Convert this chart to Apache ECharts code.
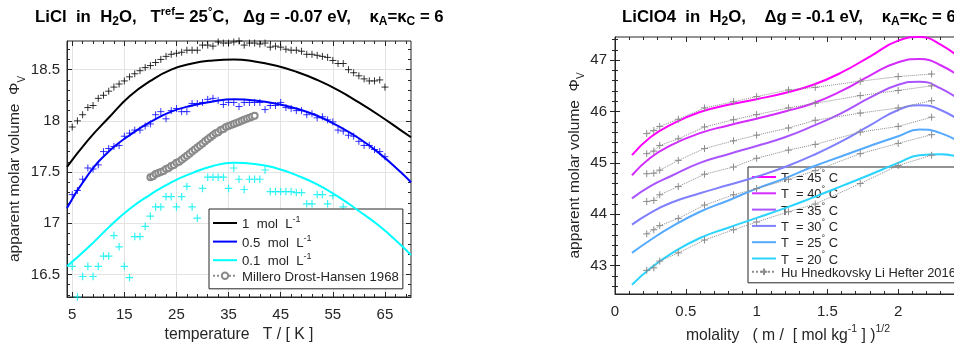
<!DOCTYPE html>
<html><head><meta charset="utf-8">
<script src="https://cdn.jsdelivr.net/npm/echarts@6/dist/echarts.min.js"></script>
<style>html,body{margin:0;padding:0;background:#fff}#c{width:954px;height:345px}</style>
</head><body><div id="c"></div><script>
// ---------- Left panel: LiCl ----------
const tempsData = [5,6,7,8,9,10,11,12,13,14,15,16,17,18,19,20,21,22,23,24,25,26,27,28,29,30,31,32,33,34,35,36,37,38,39,40,41,42,43,44,45,46,47,48,49,50,51,52,53,54,55,56,57,58,59,60,61,62,63,64,65];
const licl1Meas = [17.94,18.00,18.06,18.13,18.15,18.22,18.25,18.29,18.33,18.36,18.39,18.43,18.46,18.49,18.52,18.54,18.57,18.60,18.63,18.65,18.66,18.67,18.69,18.69,18.69,18.74,18.74,18.73,18.77,18.76,18.76,18.77,18.78,18.74,18.76,18.76,18.75,18.76,18.72,18.73,18.72,18.70,18.69,18.69,18.68,18.65,18.65,18.64,18.63,18.62,18.59,18.56,18.56,18.50,18.47,18.44,18.41,18.39,18.39,18.40,18.33];
const licl05Meas = [17.28,17.32,17.43,17.54,17.53,17.57,17.70,17.73,17.75,17.76,17.85,17.88,17.91,17.91,17.95,17.97,18.06,18.09,18.02,18.10,18.12,18.09,18.09,18.17,18.17,18.18,18.21,18.22,18.20,18.16,18.18,18.18,18.14,18.18,18.18,18.18,18.18,18.11,18.15,18.15,18.18,18.13,18.12,18.10,18.10,18.06,18.07,18.03,18.04,18.01,17.99,17.91,17.90,17.86,17.85,17.80,17.76,17.76,17.72,17.70,17.65];
const temps01 = [5,6,7,8,9,10,11,12,13,14,15,16,17,18,19,20,21,22,23,24,25,26,27,28,29,30,31,32,33,34,35,36,37,38,39,40,41,42,43,44,45,46,47,48,49,50,51,52,53,54,55,57];
const licl01Meas = [16.58,16.28,16.48,16.58,16.48,16.58,16.68,16.68,16.88,16.77,16.58,16.47,16.87,16.87,16.97,17.07,17.16,17.16,17.26,17.26,17.16,17.26,17.36,17.16,17.05,17.34,17.45,17.45,17.45,17.45,17.34,17.54,17.43,17.33,17.43,17.43,17.43,17.52,17.31,17.31,17.31,17.31,17.31,17.30,17.30,17.19,17.19,17.28,17.28,17.19,17.27,17.16];
const modelT = [4,8,12,16,20,24,28,32,36,40,44,48,52,56,60,64,68,70];
const licl1Model = [17.55,17.81,18.03,18.24,18.39,18.50,18.56,18.59,18.60,18.58,18.54,18.48,18.40,18.30,18.18,18.05,17.91,17.84];
const licl05Model = [17.15,17.47,17.70,17.86,17.99,18.09,18.15,18.19,18.21,18.20,18.17,18.12,18.05,17.95,17.83,17.68,17.50,17.40];
const licl01Model = [16.58,16.76,16.96,17.14,17.28,17.40,17.49,17.56,17.59,17.58,17.54,17.47,17.38,17.26,17.12,16.97,16.79,16.69];
const milleroT = [20,20.5,21,21.5,22,22.5,23,23.5,24,24.5,25,25.5,26,26.5,27,27.5,28,28.5,29,29.5,30,30.5,31,31.5,32,32.5,33,33.5,34,34.5,35,35.5,36,36.5,37,37.5,38,38.5,39,39.5,40];
const milleroV = [17.45,17.46,17.48,17.49,17.50,17.51,17.53,17.54,17.56,17.57,17.59,17.60,17.62,17.64,17.66,17.68,17.70,17.72,17.74,17.76,17.78,17.80,17.82,17.84,17.86,17.88,17.89,17.91,17.92,17.94,17.95,17.96,17.97,17.98,17.99,18.00,18.01,18.02,18.03,18.04,18.05];
const leftXTicks = [5,15,25,35,45,55,65];
const leftXMinor = [7,9,11,13,17,19,21,23,27,29,31,33,37,39,41,43,47,49,51,53,57,59,61,63,67,69];
const leftYTicks = [16.5,17,17.5,18,18.5];
const leftYMinor = [16.3,16.4,16.6,16.7,16.8,16.9,17.1,17.2,17.3,17.4,17.6,17.7,17.8,17.9,18.1,18.2,18.3,18.4,18.6,18.7];

// ---------- Right panel: LiClO4 ----------
const rightTemps = ['45','40','35','30','25','20'];
const modelX = [0.12,0.25,0.4,0.6,0.8,1.0,1.2,1.4,1.6,1.8,2.0,2.15,2.3,2.5];
const model45 = [45.15,45.50,45.75,45.99,46.13,46.24,46.36,46.52,46.76,47.07,47.38,47.45,47.30,46.90];
const model40 = [44.76,45.10,45.35,45.58,45.73,45.86,46.00,46.16,46.40,46.70,46.96,47.02,46.90,46.55];
const model35 = [44.31,44.55,44.75,45.00,45.17,45.33,45.50,45.72,45.97,46.27,46.52,46.58,46.45,46.10];
const model30 = [43.80,44.03,44.23,44.41,44.57,44.73,44.92,45.15,45.42,45.73,46.03,46.12,46.03,45.70];
const model25 = [43.25,43.50,43.76,44.05,44.27,44.50,44.70,44.93,45.13,45.33,45.52,45.65,45.58,45.30];
const model20 = [42.63,42.95,43.24,43.54,43.74,43.93,44.12,44.33,44.55,44.77,45.00,45.15,45.17,45.05];
const measX = [0.224,0.274,0.316,0.447,0.632,0.837,1.0,1.225,1.414,1.732,2.0,2.236];
const meas45 = [45.57,45.63,45.71,45.85,46.07,46.19,46.29,46.42,46.47,46.59,46.68,46.73];
const meas40 = [45.18,45.23,45.34,45.47,45.70,45.84,45.94,46.07,46.16,46.31,46.41,46.50];
const meas35 = [44.79,44.80,44.86,45.05,45.28,45.43,45.54,45.68,45.83,45.97,46.07,46.21];
const meas30 = [44.25,44.27,44.38,44.54,44.78,44.92,45.09,45.25,45.36,45.60,45.71,45.89];
const meas25 = [43.62,43.70,43.78,43.92,44.18,44.38,44.50,44.68,44.85,45.18,45.38,45.55];
const meas20 = [42.91,42.96,43.09,43.25,43.50,43.70,43.85,44.05,44.20,44.60,44.95,45.15];
const rightXTicks = [0,0.5,1,1.5,2,2.5];
const rightXMinor = [0.1,0.2,0.3,0.4,0.6,0.7,0.8,0.9,1.1,1.2,1.3,1.4,1.6,1.7,1.8,1.9,2.1,2.2,2.3,2.4];
const rightYTicks = [43,44,45,46,47];
const rightYMinor = [42.6,42.8,43.2,43.4,43.6,43.8,44.2,44.4,44.6,44.8,45.2,45.4,45.6,45.8,46.2,46.4,46.6,46.8,47.2,47.4];

const rightColors = ['#ff00ff','#d42bff','#aa55ff','#8080ff','#55aaff','#2bd4ff'];
const rightModels = [model45,model40,model35,model30,model25,model20];
const rightMeas = [meas45,meas40,meas35,meas30,meas25,meas20];

const FONT = 'Liberation Sans, Arial, Helvetica, sans-serif';
const TXT = '#262626';
const PLUS = 'path://M0,5L10,5M5,0L5,10';
const zip = (xs, ys) => xs.map((x, i) => [x, ys[i]]);

const chart = echarts.init(document.getElementById('c'), null, {renderer: 'canvas'});

function tickAxis(gridIndex, pos, min, max, ticks, len) {
  return {
    type: 'value', gridIndex, position: pos, min, max,
    axisLine: {show: false}, axisLabel: {show: false}, splitLine: {show: false},
    axisTick: {show: true, inside: true, length: len, customValues: ticks, lineStyle: {color: TXT}}
  };
}

const series = [];
series.push({type: 'scatter', name: 'm1', xAxisIndex: 0, yAxisIndex: 0, data: zip(tempsData, licl1Meas), symbol: PLUS, symbolSize: 7, itemStyle: {color: '#000', borderColor: '#000', borderWidth: 1}, z: 3});
series.push({type: 'scatter', name: 'm05', xAxisIndex: 0, yAxisIndex: 0, data: zip(tempsData, licl05Meas), symbol: PLUS, symbolSize: 7, itemStyle: {color: '#0000ff', borderColor: '#0000ff', borderWidth: 1}, z: 3});
series.push({type: 'scatter', name: 'm01', xAxisIndex: 0, yAxisIndex: 0, data: zip(temps01, licl01Meas), symbol: PLUS, symbolSize: 7.5, itemStyle: {color: '#00ffff', borderColor: '#00f0f0', borderWidth: 1.2}, z: 3});
[['1 mol L-1', licl1Model, '#000000'], ['0.5 mol L-1', licl05Model, '#0000ff'], ['0.1 mol L-1', licl01Model, '#00ffff']].forEach(([n, d, c]) => {
  series.push({type: 'line', name: n, xAxisIndex: 0, yAxisIndex: 0, data: zip(modelT, d), smooth: true, showSymbol: false, symbol: 'none', lineStyle: {color: c, width: 2}, itemStyle: {color: c}, z: 4});
});
series.push({type: 'line', name: 'Millero Drost-Hansen 1968', xAxisIndex: 0, yAxisIndex: 0, data: zip(milleroT, milleroV), symbol: 'emptyCircle', symbolSize: 6, lineStyle: {color: '#8a8a8a', width: 1.2, type: 'dotted'}, itemStyle: {color: '#8a8a8a', borderColor: '#8a8a8a', borderWidth: 1.5}, z: 5});

rightTemps.forEach((t, i) => {
  series.push({type: 'line', name: 'T = ' + t + '° C', xAxisIndex: 8, yAxisIndex: 8, data: zip(modelX, rightModels[i]), smooth: true, showSymbol: false, symbol: 'none', lineStyle: {color: rightColors[i], width: 2}, itemStyle: {color: rightColors[i]}, z: 4});
});
rightTemps.forEach((t, i) => {
  series.push({type: 'line', name: 'Hu Hnedkovsky Li Hefter 2016', xAxisIndex: 8, yAxisIndex: 8, data: zip(measX, rightMeas[i]), symbol: PLUS, symbolSize: 7, lineStyle: {color: '#8c8c8c', width: 1, type: 'dotted'}, itemStyle: {color: '#8c8c8c', borderColor: '#8c8c8c', borderWidth: 1}, z: 5});
});

const richLegendL = {
  t: {fontFamily: FONT, fontSize: 13.2, color: TXT, lineHeight: 16, verticalAlign: 'bottom'},
  s: {fontFamily: FONT, fontSize: 9, color: TXT, lineHeight: 16, verticalAlign: 'top'}
};
const richLegendR = {
  t: {fontFamily: FONT, fontSize: 12.9, color: TXT, lineHeight: 16, verticalAlign: 'bottom'},
  s: {fontFamily: FONT, fontSize: 9, color: TXT, lineHeight: 16, verticalAlign: 'top'}
};
const richTitle = {
  m: {fontFamily: FONT, fontWeight: 'bold', fontSize: 16.75, color: '#000', lineHeight: 22, verticalAlign: 'middle'},
  b: {fontFamily: FONT, fontWeight: 'bold', fontSize: 12, color: '#000', lineHeight: 22, verticalAlign: 'bottom'},
  p: {fontFamily: FONT, fontWeight: 'bold', fontSize: 11, color: '#000', lineHeight: 22, verticalAlign: 'top'}
};
const nameRichY = {
  t: {fontFamily: FONT, fontSize: 15.5, color: TXT, lineHeight: 20, verticalAlign: 'top'},
  s: {fontFamily: FONT, fontSize: 10, color: TXT, lineHeight: 20, verticalAlign: 'bottom'}
};
const noSym = {opacity: 0};

const option = {
  animation: false,
  backgroundColor: '#ffffff',
  textStyle: {fontFamily: FONT},
  title: [
    {left: 35, top: 6, padding: 0, text: '{m|LiCl  in  H}{b|2}{m|O,   T}{p|ref}{m|= 25}{p|°}{m|C,   Δg = -0.07 eV,    κ}{b|A}{m|=κ}{b|C}{m| = 6}',
     textStyle: {rich: richTitle}},
    {left: 622, top: 6, padding: 0, text: '{m|LiClO4  in  H}{b|2}{m|O,    Δg = -0.1 eV,    κ}{b|A}{m|=κ}{b|C}{m| = 6}',
     textStyle: {rich: richTitle}}
  ],
  grid: [
    {left: 67, width: 344, top: 41, height: 256, outerBoundsMode: 'none', containLabel: false, show: true, borderColor: TXT, borderWidth: 1, backgroundColor: 'transparent'},
    {left: 615, width: 354, top: 37, height: 257, outerBoundsMode: 'none', containLabel: false, show: true, borderColor: TXT, borderWidth: 1, backgroundColor: 'transparent'}
  ],
  legend: [
    {orient: 'vertical', left: 209, top: 209, padding: [6, 4, 5, 3], itemGap: 2.6, itemWidth: 24, itemHeight: 8,
     backgroundColor: '#fff', borderColor: TXT, borderWidth: 1, borderRadius: 0,
     data: [{name: '1 mol L-1', itemStyle: noSym}, {name: '0.5 mol L-1', itemStyle: noSym}, {name: '0.1 mol L-1', itemStyle: noSym}, 'Millero Drost-Hansen 1968'],
     formatter: n => {
       if (n.indexOf('mol L-1') >= 0) return '{t|' + n.replace(' mol L-1', '  mol  L') + '}{s|-1}';
       return '{t|' + n + '}';
     },
     textStyle: {rich: richLegendL}},
    {orient: 'vertical', left: 748, top: 167, padding: [2, 12, 3, 3], itemGap: 0.3, itemWidth: 24, itemHeight: 8,
     backgroundColor: '#fff', borderColor: TXT, borderWidth: 1, borderRadius: 0,
     data: rightTemps.map(t => ({name: 'T = ' + t + '° C', itemStyle: noSym})).concat(['Hu Hnedkovsky Li Hefter 2016']),
     formatter: n => {
       if (n.indexOf('° C') >= 0) return '{t|' + n.replace('T = ', 'T  = ').replace('° C', '') + '}{s|°}{t| C}';
       return '{t|' + n + '}';
     },
     textStyle: {rich: richLegendR}}
  ],
  xAxis: [
    {type: 'value', gridIndex: 0, position: 'bottom', min: 4, max: 70,
     name: 'temperature   T / [ K ]', nameLocation: 'middle', nameGap: 28,
     nameTextStyle: {fontFamily: FONT, fontSize: 15.75, color: TXT},
     axisLine: {show: true, lineStyle: {color: TXT}},
     axisTick: {show: true, inside: true, length: 5, customValues: leftXTicks, lineStyle: {color: TXT}},
     axisLabel: {show: true, customValues: leftXTicks, margin: 10, fontFamily: FONT, fontSize: 15, color: TXT},
     splitLine: {show: true, lineStyle: {color: '#e3e3e3', width: 1}}},
    tickAxis(0, 'top', 4, 70, leftXTicks, 5),
    tickAxis(0, 'top', 4, 70, leftXMinor, 3),
    tickAxis(0, 'bottom', 4, 70, leftXMinor, 3),
    tickAxis(1, 'top', 0, 2.5, rightXTicks, 5),
    tickAxis(1, 'top', 0, 2.5, rightXMinor, 3),
    tickAxis(1, 'bottom', 0, 2.5, rightXMinor, 3),
    {type: 'value', gridIndex: 1, show: false, min: 0, max: 2.5},
    {type: 'value', gridIndex: 1, position: 'bottom', min: 0, max: 2.5, interval: 0.5,
     name: '{t|molality   ( m /  [ mol kg}{s|-1}{t| ] )}{s|1/2}', nameLocation: 'middle', nameGap: 27,
     nameTextStyle: {padding: [0, 8, 0, 0], rich: {
       t: {fontFamily: FONT, fontSize: 15.75, color: TXT, lineHeight: 20, verticalAlign: 'bottom'},
       s: {fontFamily: FONT, fontSize: 10.5, color: TXT, lineHeight: 20, verticalAlign: 'top'}}},
     axisLine: {show: true, lineStyle: {color: TXT}},
     axisTick: {show: true, inside: true, length: 5, lineStyle: {color: TXT}},
     axisLabel: {show: true, margin: 10, fontFamily: FONT, fontSize: 15, color: TXT, formatter: v => String(v)},
     splitLine: {show: false}}
  ],
  yAxis: [
    {type: 'value', gridIndex: 0, position: 'left', min: 16.28, max: 18.78,
     name: '{t|apparent molar volume  Φ}{s|V}', nameLocation: 'middle', nameGap: 38, nameRotate: 90,
     nameTextStyle: {rich: nameRichY},
     axisLine: {show: true, lineStyle: {color: TXT}},
     axisTick: {show: true, inside: true, length: 5, customValues: leftYTicks, lineStyle: {color: TXT}},
     axisLabel: {show: true, customValues: leftYTicks, margin: 7, fontFamily: FONT, fontSize: 15, color: TXT, formatter: v => String(v)},
     splitLine: {show: true, lineStyle: {color: '#e3e3e3', width: 1}}},
    tickAxis(0, 'right', 16.28, 18.78, leftYTicks, 5),
    tickAxis(0, 'right', 16.28, 18.78, leftYMinor, 3),
    tickAxis(0, 'left', 16.28, 18.78, leftYMinor, 3),
    tickAxis(1, 'right', 42.45, 47.45, rightYTicks, 5),
    tickAxis(1, 'right', 42.45, 47.45, rightYMinor, 3),
    tickAxis(1, 'left', 42.45, 47.45, rightYMinor, 3),
    {type: 'value', gridIndex: 1, show: false, min: 42.45, max: 47.45},
    {type: 'value', gridIndex: 1, position: 'left', min: 42.45, max: 47.45,
     name: '{t|apparent molar volume  Φ}{s|V}', nameLocation: 'middle', nameGap: 16, nameRotate: 90,
     nameTextStyle: {rich: nameRichY},
     axisLine: {show: true, lineStyle: {color: TXT}},
     axisTick: {show: true, inside: true, length: 5, customValues: rightYTicks, lineStyle: {color: TXT}},
     axisLabel: {show: true, customValues: rightYTicks, margin: 8, fontFamily: FONT, fontSize: 15, color: TXT},
     splitLine: {show: false}}
  ],
  series
};
chart.setOption(option);
</script></body></html>
